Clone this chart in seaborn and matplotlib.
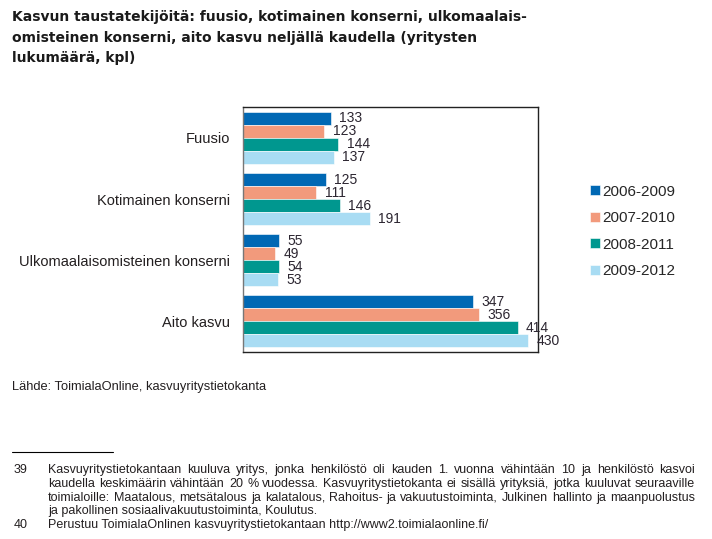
import pandas as pd
import matplotlib.pyplot as plt
import seaborn as sns
from matplotlib.font_manager import FontProperties

# ===== Data =====
categories = ["Fuusio", "Kotimainen konserni", "Ulkomaalaisomisteinen konserni", "Aito kasvu"]
periods = ["2006-2009", "2007-2010", "2008-2011", "2009-2012"]
v_2006_2009 = [133, 125, 55, 347]
v_2007_2010 = [123, 111, 49, 356]
v_2008_2011 = [144, 146, 54, 414]
v_2009_2012 = [137, 191, 53, 430]
colors = ["#0068b4", "#f29a7c", "#00978f", "#a8dcf3"]

title = ("Kasvun taustatekijöitä: fuusio, kotimainen konserni, ulkomaalais-\n"
         "omisteinen konserni, aito kasvu neljällä kaudella (yritysten\n"
         "lukumäärä, kpl)")
source = "Lähde: ToimialaOnline, kasvuyritystietokanta"
fn39 = ["Kasvuyritystietokantaan kuuluva yritys, jonka henkilöstö oli kauden 1. vuonna vähintään 10 ja henkilöstö kasvoi",
        "kaudella keskimäärin vähintään 20 % vuodessa. Kasvuyritystietokanta ei sisällä yrityksiä, jotka kuuluvat seuraaville",
        "toimialoille: Maatalous, metsätalous ja kalatalous, Rahoitus- ja vakuutustoiminta, Julkinen hallinto ja maanpuolustus",
        "ja pakollinen sosiaalivakuutustoiminta, Koulutus."]
fn40 = "Perustuu ToimialaOnlinen kasvuyritystietokantaan http://www2.toimialaonline.fi/"

# long format for seaborn
rows = []
for p, vals in zip(periods, [v_2006_2009, v_2007_2010, v_2008_2011, v_2009_2012]):
    for c, v in zip(categories, vals):
        rows.append({"kategoria": c, "kausi": p, "arvo": v})
df = pd.DataFrame(rows)

sns.set_style("white")
plt.rcParams["font.family"] = ["Liberation Sans", "DejaVu Sans"]

W, H = 712, 539
fig = plt.figure(figsize=(W / 100, H / 100), dpi=100)
ax = fig.add_axes([0.341, 0.347, 0.415, 0.454])

sns.barplot(data=df, y="kategoria", x="arvo", hue="kausi", order=categories,
            hue_order=periods, palette=colors, orient="h", width=0.85,
            saturation=1, edgecolor="white", linewidth=0.4, ax=ax)

for cont in ax.containers:
    ax.bar_label(cont, padding=6, fontsize=10, color="#2b2530")

ax.set_xlim(0, 445)
ax.set_xlabel("")
ax.set_ylabel("")
ax.set_xticks([])
ax.tick_params(axis="y", length=0, labelsize=10.5, pad=9, colors="#231f20")
for s in ax.spines.values():
    s.set_visible(True)
    s.set_color("#222222")
    s.set_linewidth(1.0)
ax.spines["left"].set_color("#777777")

ax.legend(loc="upper left", bbox_to_anchor=(0.81, 0.683), bbox_transform=fig.transFigure,
          frameon=False, fontsize=11, handlelength=0.6, handleheight=0.6,
          handletextpad=0.2, labelspacing=0.82)

# ===== Texts =====
fig.text(12 / W, 1 - 10 / H, title, ha="left", va="top", fontsize=10,
         fontweight="bold", family=["DejaVu Sans"], linespacing=1.6, color="#1a1a1a")
fig.text(12 / W, 1 - 387 / H, source, ha="left", va="center", fontsize=9.25, color="#231f20")

fig.add_artist(plt.Line2D([12 / W, 113 / W], [1 - 452 / H, 1 - 452 / H],
                          color="black", linewidth=0.8))

# footnotes: lines justified between x=48 and x=695 like in the report
fn_size = 9.0
fp = FontProperties(family=["Liberation Sans"], size=fn_size)
renderer = fig.canvas.get_renderer()
x0, x1 = 48, 695

def justified(line, y):
    words = line.split(" ")
    widths = [renderer.get_text_width_height_descent(w, fp, ismath=False)[0] for w in words]
    gap = (x1 - x0 - sum(widths)) / (len(words) - 1)
    x = x0
    for w, wd in zip(words, widths):
        fig.text(x / W, 1 - y / H, w, ha="left", va="center", fontproperties=fp, color="#231f20")
        x += wd + gap

fig.text(14 / W, 1 - 470 / H, "39", ha="left", va="center", fontsize=fn_size, color="#231f20")
for i, line in enumerate(fn39):
    y = 470 + i * 13.8
    if i < len(fn39) - 1:
        justified(line, y)
    else:
        fig.text(x0 / W, 1 - y / H, line, ha="left", va="center", fontsize=fn_size, color="#231f20")
fig.text(14 / W, 1 - 525 / H, "40", ha="left", va="center", fontsize=fn_size, color="#231f20")
fig.text(x0 / W, 1 - 525 / H, fn40, ha="left", va="center", fontsize=fn_size, color="#231f20")

fig.savefig("out.png", dpi=100)
plt.close(fig)
